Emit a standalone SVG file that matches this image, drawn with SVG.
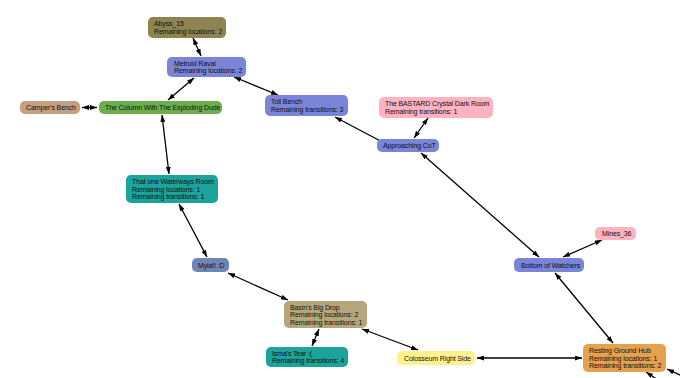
<svg xmlns="http://www.w3.org/2000/svg" width="680" height="378" viewBox="0 0 680 378">
<defs>
<style>
.n rect{rx:5px;ry:5px}
.n text{font-family:"Liberation Sans",Arial,sans-serif;font-size:7px;letter-spacing:-0.12px;fill:#111}
.e line{stroke:#000;stroke-width:1.3;fill:none}
.b{marker-start:url(#ah);marker-end:url(#ah)}
.s{marker-end:url(#ah)}
</style>
<marker id="ah" viewBox="0 0 7 5" refX="7" refY="2.5" markerWidth="7" markerHeight="5" markerUnits="userSpaceOnUse" orient="auto-start-reverse">
<path d="M0,0 L7,2.5 L0,5 z" fill="#000"/>
</marker>
</defs>
<rect width="680" height="378" fill="#fff"/>
<g id="connectors" class="e">
<line class="b" x1="193" y1="38" x2="201" y2="56"/>
<line class="b" x1="194" y1="78" x2="168" y2="100"/>
<line class="b" x1="234" y1="77" x2="278" y2="95"/>
<line class="b" x1="82" y1="107.5" x2="97" y2="107.5"/>
<line class="b" x1="162" y1="115" x2="169" y2="174"/>
<line class="b" x1="179" y1="204" x2="207" y2="257"/>
<line class="b" x1="228" y1="273" x2="288" y2="300"/>
<line class="b" x1="319" y1="329" x2="312" y2="346"/>
<line class="b" x1="362" y1="329" x2="418" y2="350"/>
<line class="b" x1="477" y1="358" x2="582" y2="358"/>
<line class="b" x1="555" y1="273" x2="613" y2="343"/>
<line class="b" x1="563" y1="257" x2="602" y2="240"/>
<line class="b" x1="421" y1="153" x2="539" y2="257"/>
<line class="b" x1="335" y1="117" x2="388" y2="145"/>
<line class="b" x1="414" y1="138" x2="428" y2="118"/>
<line class="s" x1="682" y1="376" x2="667" y2="369"/>
<line class="s" x1="658" y1="380" x2="646" y2="372"/>
</g>
<g id="abyss" class="n"><rect x="148" y="17" width="78" height="21" fill="#8e8452"/><text x="154" y="26">Abyss_15</text><text x="154" y="33.6">Remaining locations: 2</text></g>
<g id="metroid" class="n"><rect x="167" y="57" width="79" height="20" fill="#7a84d8"/><text x="174" y="65.6">Metroid Raval</text><text x="174" y="73.2">Remaining locations: 2</text></g>
<g id="camper" class="n"><rect x="20" y="101" width="60" height="13" fill="#c69e80"/><text x="26" y="110">Camper's Bench</text></g>
<g id="column" class="n"><rect x="99" y="101" width="123" height="13" fill="#6cae4c"/><text x="105" y="110">The Column With The Exploding Dude</text></g>
<g id="toll" class="n"><rect x="265" y="95" width="83" height="21" fill="#7a84d8"/><text x="271" y="104">Toll Bench</text><text x="271" y="111.6">Remaining transitions: 3</text></g>
<g id="bastard" class="n"><rect x="379" y="97" width="114" height="21" fill="#ffb2c1"/><text x="385" y="106">The BASTARD Crystal Dark Room</text><text x="385" y="113.6">Remaining transitions: 1</text></g>
<g id="cot" class="n"><rect x="377" y="139" width="62" height="13" fill="#7a84d8"/><text x="383" y="148">Approaching CoT</text></g>
<g id="waterways" class="n"><rect x="126" y="175" width="92" height="28" fill="#1ba39c"/><text x="132" y="183.9">That one Waterways Room</text><text x="132" y="191.5">Remaining locations: 1</text><text x="132" y="199.1">Remaining transitions: 1</text></g>
<g id="myla" class="n"><rect x="192" y="258" width="37" height="14" fill="#6e85b8"/><text x="198" y="267.5">Myla!! :D</text></g>
<g id="basin" class="n"><rect x="284" y="301" width="83" height="27" fill="#b5a77b"/><text x="290" y="309.5">Basin's Big Drop</text><text x="290" y="317.1">Remaining locations: 2</text><text x="290" y="324.7">Remaining transitions: 1</text></g>
<g id="isma" class="n"><rect x="266" y="347" width="82" height="20" fill="#1ba39c"/><text x="272" y="355.6">Isma's Tear :(</text><text x="272" y="363.2">Remaining transitions: 4</text></g>
<g id="colosseum" class="n"><rect x="397" y="351" width="78" height="14" fill="#fff28e"/><text x="404" y="360.5">Colosseum Right Side</text></g>
<g id="mines" class="n"><rect x="595" y="227" width="41" height="13" fill="#ffb2c1"/><text x="602" y="236">Mines_36</text></g>
<g id="bottom" class="n"><rect x="514" y="258" width="70" height="14" fill="#7a84d8"/><text x="521" y="267.5">Bottom of Watchers</text></g>
<g id="resting" class="n"><rect x="583" y="344" width="83" height="28" fill="#e6a04e"/><text x="589" y="352.9">Resting Ground Hub</text><text x="589" y="360.5">Remaining locations: 1</text><text x="589" y="368.1">Remaining transitions: 2</text></g>
</svg>
